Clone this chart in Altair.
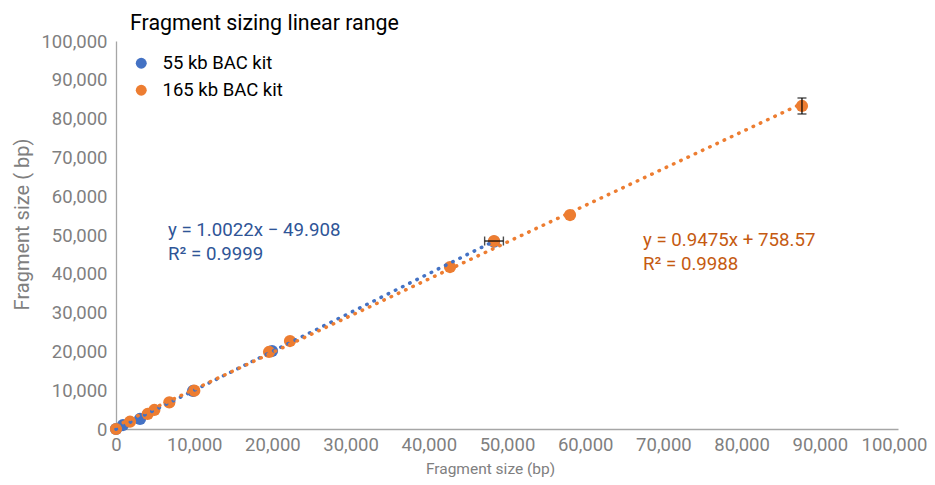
import altair as alt
import pandas as pd

# ---- data ----
series_names = ["55 kb BAC kit", "165 kb BAC kit"]
series_colors = ["#4472C4", "#ED7D31"]
label_colors = ["#2F5597", "#C55A11"]

blue_x = [0, 895, 3070, 9850, 19950, 48340]
blue_y = [0, 1030, 2580, 9800, 20100, 48270]

orange_x = [0, 1790, 4050, 4900, 6820, 10010, 19570, 22250, 42710, 48340, 58060, 87720]
orange_y = [0, 1880, 3870, 4900, 6880, 9870, 19850, 22680, 41750, 48450, 55150, 83250]

# error bars (orange series): center x, center y, x half-error, y half-error
err_x = [48340, 87720]
err_y = [48450, 83250]
err_dx = [1200, 0]
err_dy = [0, 2060]

# trendline coefficients
slopes = [1.0022, 0.9475]
intercepts = [-49.908, 758.57]
eq_text = ["y = 1.0022x \u2212 49.908", "y = 0.9475x + 758.57"]
r2_text = ["R\u00b2 = 0.9999", "R\u00b2 = 0.9988"]

tick_values = [0, 10000, 20000, 30000, 40000, 50000, 60000, 70000, 80000, 90000, 100000]

FONT = "Roboto"
GRAY = "#7F7F7F"

# ---- tables ----
pts = pd.concat([
    pd.DataFrame({"x": blue_x, "y": blue_y, "series": series_names[0]}),
    pd.DataFrame({"x": orange_x, "y": orange_y, "series": series_names[1]}),
], ignore_index=True)

xmax = [max(blue_x), max(orange_x)]
lines = []
for i in range(2):
    lines.append(pd.DataFrame({
        "x": [0, xmax[i]],
        "y": [intercepts[i], slopes[i] * xmax[i] + intercepts[i]],
        "series": series_names[i],
    }))

err = pd.DataFrame({"x": err_x, "y": err_y, "dx": err_dx, "dy": err_dy})
err["xlo"] = err["x"] - err["dx"]
err["xhi"] = err["x"] + err["dx"]
err["ylo"] = err["y"] - err["dy"]
err["yhi"] = err["y"] + err["dy"]
errx = err[err["dx"] > 0]
erry = err[err["dy"] > 0]

xscale = alt.Scale(domain=[0, 100000], nice=False)
yscale = alt.Scale(domain=[0, 100000], nice=False)

xaxis = alt.Axis(values=tick_values, format=",.0f", grid=False, ticks=False,
                 labelFontSize=18.5, labelColor=GRAY, labelFont=FONT, labelPadding=6,
                 domainColor="#A6A6A6", domainWidth=1.3, labelFlush=False,
                 labelOverlap=False,
                 labelOffset={"condition": {"test": "datum.value == 100000", "value": -4}, "value": 0},
                 title="Fragment size (bp)", titleFont=FONT, titleFontSize=15.5,
                 titleFontWeight="normal", titleColor=GRAY,
                 titleX=374, titleY=44, titleAlign="center", titleBaseline="alphabetic")
yaxis = alt.Axis(values=tick_values, format=",.0f", grid=False, ticks=False,
                 labelFontSize=18.5, labelColor=GRAY, labelFont=FONT, labelPadding=9,
                 domainColor="#A6A6A6", domainWidth=1.3, labelOverlap=False,
                 title="Fragment size ( bp)", titleFont=FONT, titleFontSize=20,
                 titleFontWeight="normal", titleColor=GRAY,
                 titleX=-94, titleY=183, titleAlign="center", titleBaseline="middle",
                 titleAngle=270)


def X(field):
    return alt.X(field, type="quantitative", scale=xscale, axis=xaxis)


def Y(field):
    return alt.Y(field, type="quantitative", scale=yscale, axis=yaxis)


color = alt.Color("series:N",
                  scale=alt.Scale(domain=series_names, range=series_colors),
                  sort=series_names,
                  legend=alt.Legend(title=None, orient="none", legendX=16, legendY=13,
                                    symbolType="circle", symbolSize=120,
                                    symbolStrokeWidth=0, symbolOpacity=1,
                                    labelFont=FONT, labelFontSize=18.5, labelColor="black",
                                    labelOffset=12, rowPadding=8, padding=0))

points = alt.Chart(pts).mark_circle(size=150, opacity=1).encode(
    x=X("x"), y=Y("y"),
    color=color,
    order=alt.Order("series:N", sort="descending"),
)

err_h = alt.Chart(errx).mark_rule(color="black", strokeWidth=1.2).encode(
    x=X("xlo"), x2="xhi:Q", y=Y("y"))
err_h_caps = alt.layer(
    alt.Chart(errx).mark_tick(color="black", orient="vertical", size=9, thickness=1.4).encode(x=X("xlo"), y=Y("y")),
    alt.Chart(errx).mark_tick(color="black", orient="vertical", size=9, thickness=1.4).encode(x=X("xhi"), y=Y("y")),
)
err_v = alt.Chart(erry).mark_rule(color="black", strokeWidth=1.2).encode(
    x=X("x"), y=Y("ylo"), y2="yhi:Q")
err_v_caps = alt.layer(
    alt.Chart(erry).mark_tick(color="black", orient="horizontal", size=9, thickness=1.4).encode(x=X("x"), y=Y("ylo")),
    alt.Chart(erry).mark_tick(color="black", orient="horizontal", size=9, thickness=1.4).encode(x=X("x"), y=Y("yhi")),
)

trend_layers = []
for i in range(2):
    trend_layers.append(
        alt.Chart(lines[i]).mark_line(color=series_colors[i], strokeWidth=3.5,
                                      strokeDash=[0.5, 7.5], strokeCap="round").encode(
            x=X("x"), y=Y("y"))
    )

# equation labels
label_pos = [(52, 189, 213), (527, 199, 223)]
text_layers = []
for i in range(2):
    lx, ly1, ly2 = label_pos[i]
    for txt, ly in [(eq_text[i], ly1), (r2_text[i], ly2)]:
        text_layers.append(
            alt.Chart(pd.DataFrame({"t": [txt]})).mark_text(
                font=FONT, fontSize=18.7, color=label_colors[i], align="left", baseline="middle"
            ).encode(text="t:N", x=alt.value(lx), y=alt.value(ly))
        )

chart = alt.layer(
    points, err_h, err_h_caps, err_v, err_v_caps, *trend_layers, *text_layers
).properties(
    width=782, height=388,
    autosize=alt.AutoSizeParams(type="none"),
    padding={"left": 108, "top": 33, "right": 29, "bottom": 48},
    title=alt.TitleParams(text="Fragment sizing linear range", anchor="start", frame="group",
                          dx=14, dy=13, offset=11, fontSize=21.4, fontWeight="normal",
                          font=FONT, color="black"),
).configure_view(stroke=None).configure_axis(labelOverlap=False)

chart.save("out.html", embed_options={"renderer": "svg", "actions": False})
